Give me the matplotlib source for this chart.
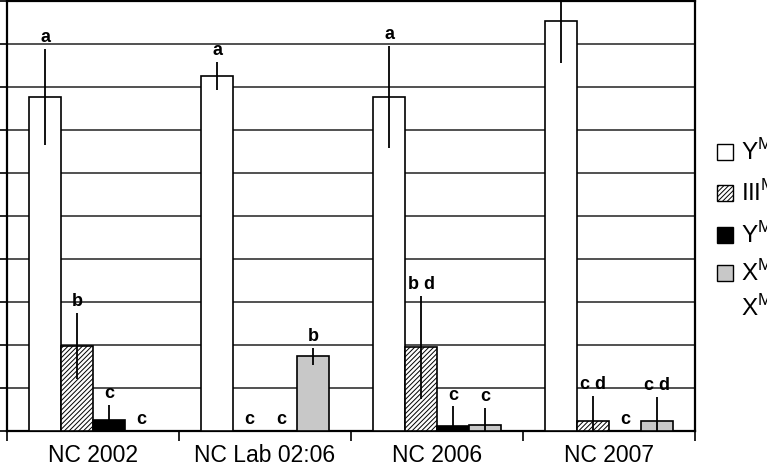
import matplotlib
matplotlib.use("Agg")
import matplotlib.pyplot as plt
import matplotlib.patches as patches
import numpy as np

plt.rcParams['font.family'] = ['Liberation Sans', 'DejaVu Sans']
plt.rcParams['hatch.linewidth'] = 0.7

# data
categories = ["NC 2002", "NC Lab 02:06", "NC 2006", "NC 2007"]
series_names = ["Y$^{\\mathregular{MT}}$", "III$^{\\mathregular{MT}}$",
                "Y$^{\\mathregular{MA}}$", "X$^{\\mathregular{MT}}$\nX$^{\\mathregular{MA}}$"]

white_vals = [7.77, 8.26, 7.76, 9.54]
white_err = [1.12, 0.33, 1.19, 0.99]
hatch_vals = [1.98, 0.0, 1.95, 0.24]
hatch_err = [0.77, 0.0, 1.20, 0.57]
black_vals = [0.26, 0.0, 0.12, 0.0]
black_err = [0.35, 0.0, 0.45, 0.0]
gray_vals = [0.0, 1.74, 0.13, 0.24]
gray_err = [0.0, 0.20, 0.40, 0.55]

white_letters = ["a", "a", "a", "a"]
hatch_letters = ["b", "c", "b d", "c d"]
black_letters = ["c", "c", "c", "c"]
gray_letters = ["c", "b", "c", "c d"]

W, H = 767, 467
fig = plt.figure(figsize=(W / 100, H / 100), dpi=100)
ax = fig.add_axes([7 / W, 36 / H, 688 / W, 430 / H])

x = np.arange(len(categories)) + 0.5
bw = 0.186
styles = [
    dict(color="white", hatch=None),
    dict(color="white", hatch="///////"),
    dict(color="black", hatch=None),
    dict(color="#c8c8c8", hatch=None),
]
all_vals = [white_vals, hatch_vals, black_vals, gray_vals]
all_err = [white_err, hatch_err, black_err, gray_err]
all_letters = [white_letters, hatch_letters, black_letters, gray_letters]

for i, (vals, errs, letters, st) in enumerate(zip(all_vals, all_err, all_letters, styles)):
    xs = x + (i - 1.5) * bw
    ax.bar(xs, vals, bw, color=st["color"], hatch=st["hatch"],
           edgecolor="black", linewidth=1.2, zorder=3)
    ax.errorbar(xs, vals, yerr=errs, fmt="none", ecolor="black",
                elinewidth=1.3, capsize=0, zorder=4)
    for xx, v, e, lab in zip(xs, vals, errs, letters):
        ax.annotate(lab, (xx, v + e), xytext=(0, 2), textcoords="offset points",
                    ha="center", va="bottom", fontsize=13, fontweight="bold",
                    zorder=5)

ax.set_xlim(0, len(categories))
ax.set_ylim(0, 10)
ax.set_yticks(np.arange(0, 11, 1))
ax.set_yticklabels([])
ax.yaxis.grid(True, color="#222222", linewidth=1.1, zorder=0)
ax.set_axisbelow(True)
ax.tick_params(axis="y", direction="out", length=7, width=1.2)

ax.set_xticks(np.arange(0, len(categories) + 1))
ax.set_xticklabels([])
ax.set_xticks(x, minor=True)
ax.set_xticklabels(categories, minor=True, fontsize=16.5)
ax.tick_params(axis="x", which="major", direction="out", length=7, width=1.2)
ax.tick_params(axis="x", which="minor", length=0, pad=9.5)

for s in ax.spines.values():
    s.set_linewidth(1.6)

# legend, cut by the right edge like the reference
leg_y = [152, 193, 235, 273]
leg_fc = ["white", "white", "black", "#c8c8c8"]
leg_hatch = [None, "///////", None, None]
for yy, fc, hh, name in zip(leg_y, leg_fc, leg_hatch, series_names):
    fig.add_artist(patches.Rectangle((717 / W, (H - yy - 8) / H), 16 / W, 16 / H,
                                     transform=fig.transFigure, facecolor=fc,
                                     hatch=hh, edgecolor="black", linewidth=1))
    for k, line in enumerate(name.split("\n")):
        fig.text(741 / W, (H - yy - 35 * k) / H, line, ha="left", va="center",
                 fontsize=17.5)

fig.savefig("out.png", dpi=100)
